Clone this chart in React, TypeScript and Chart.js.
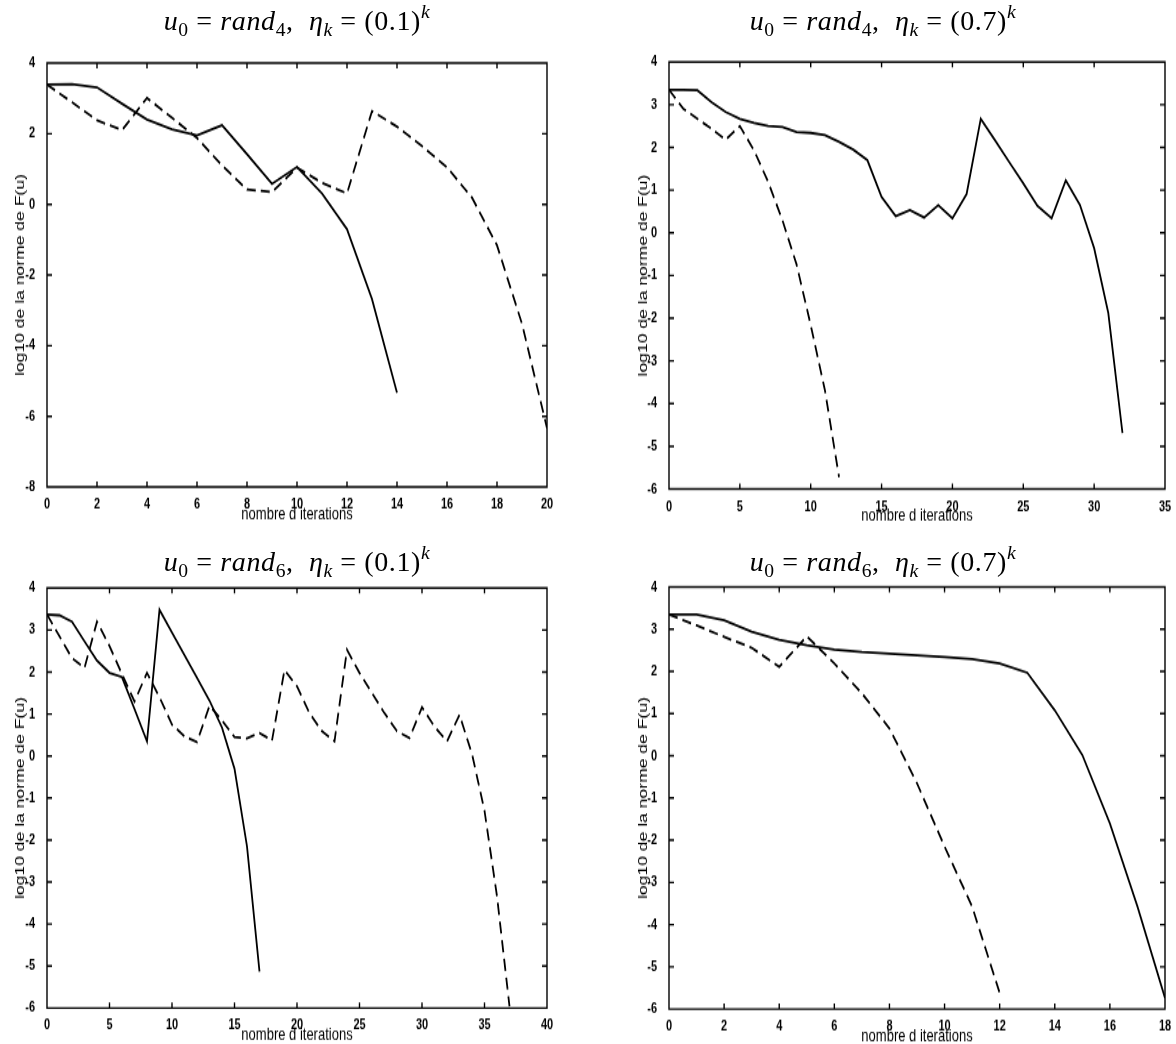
import React, { useEffect, useRef } from 'react';
import { Chart, registerables } from 'chart.js';

Chart.register(...registerables);

// ---------------- data (log10 of ||F(u)|| per iteration) ----------------
// Panel A : u0 = rand4, eta_k = (0.1)^k
const solidA = [3.39, 3.40, 3.31, 2.85, 2.40, 2.12, 1.95, 2.24, 1.42, 0.58, 1.06, 0.31, -0.70, -2.68, -5.33];
const dashedA = [3.39, 2.89, 2.38, 2.10, 3.01, 2.45, 1.88, 1.10, 0.42, 0.35, 1.04, 0.61, 0.31, 2.64, 2.20, 1.65, 1.05, 0.19, -1.16, -3.38, -6.33];
const xTicksA = [0, 2, 4, 6, 8, 10, 12, 14, 16, 18, 20];
const yTicksA = [-8, -6, -4, -2, 0, 2, 4];

// Panel B : u0 = rand4, eta_k = (0.7)^k
const solidB = [3.35, 3.35, 3.34, 3.06, 2.83, 2.67, 2.57, 2.50, 2.48, 2.36, 2.34, 2.29, 2.13, 1.95, 1.70, 0.84, 0.39, 0.53, 0.36, 0.65, 0.34, 0.91, 2.67, 2.17, 1.66, 1.16, 0.63, 0.34, 1.23, 0.65, -0.36, -1.88, -4.69];
const dashedB = [3.35, 2.91, 2.67, 2.44, 2.18, 2.50, 1.93, 1.19, 0.30, -0.74, -2.16, -3.68, -5.72];
const xTicksB = [0, 5, 10, 15, 20, 25, 30, 35];
const yTicksB = [-6, -5, -4, -3, -2, -1, 0, 1, 2, 3, 4];

// Panel C : u0 = rand6, eta_k = (0.1)^k
const solidC = [3.37, 3.35, 3.20, 2.73, 2.27, 1.98, 1.88, 1.12, 0.35, 3.48, 2.94, 2.40, 1.86, 1.32, 0.68, -0.30, -2.15, -5.13];
const dashedC = [3.37, 2.85, 2.33, 2.10, 3.20, 2.62, 1.95, 1.30, 1.98, 1.40, 0.75, 0.47, 0.33, 1.20, 0.85, 0.45, 0.42, 0.55, 0.37, 2.05, 1.66, 1.02, 0.59, 0.35, 2.53, 1.98, 1.50, 1.02, 0.59, 0.43, 1.16, 0.70, 0.35, 0.98, 0.05, -1.30, -3.34, -5.96];
const xTicksC = [0, 5, 10, 15, 20, 25, 30, 35, 40];
const yTicksC = [-6, -5, -4, -3, -2, -1, 0, 1, 2, 3, 4];

// Panel D : u0 = rand6, eta_k = (0.7)^k
const solidD = [3.35, 3.35, 3.21, 2.94, 2.75, 2.62, 2.52, 2.46, 2.42, 2.38, 2.34, 2.29, 2.19, 1.97, 1.08, 0.02, -1.60, -3.57, -5.74];
const dashedD = [3.35, 3.09, 2.82, 2.56, 2.11, 2.83, 2.19, 1.48, 0.65, -0.65, -2.15, -3.57, -5.62];
const xTicksD = [0, 2, 4, 6, 8, 10, 12, 14, 16, 18];
const yTicksD = [-6, -5, -4, -3, -2, -1, 0, 1, 2, 3, 4];

const X_LABEL = 'nombre d iterations';
const Y_LABEL = 'log10 de la norme de F(u)';

// ---------------- layout ----------------
const S = 1.35; // the scanned figure is stretched vertically
const FONT = '"Liberation Sans", Arial, Helvetica, sans-serif';
const TICK_SIZE = 11;
const LABEL_SIZE = 13;

type PanelCfg = {
  solid: number[];
  dashed: number[];
  xTicks: number[];
  yTicks: number[];
  randIdx: string;
  eta: string;
  canvasLeft: number;
  canvasWidth: number;
  canvasTop: number;
  canvasH: number;
  plotLeft: number;
  plotRight: number;
  plotTop: number;
  plotBottom: number;
  yTitleX: number;
  titleCX: number;
  titleCY: number;
};

const PANELS: PanelCfg[] = [
  {
    solid: solidA, dashed: dashedA, xTicks: xTicksA, yTicks: yTicksA, randIdx: '4', eta: '0.1',
    canvasLeft: 0, canvasWidth: 575, canvasTop: 36, canvasH: 368,
    plotLeft: 47, plotRight: 547, plotTop: 63, plotBottom: 487, yTitleX: 20, titleCX: 297, titleCY: 21,
  },
  {
    solid: solidB, dashed: dashedB, xTicks: xTicksB, yTicks: yTicksB, randIdx: '4', eta: '0.7',
    canvasLeft: 612, canvasWidth: 564, canvasTop: 36, canvasH: 368,
    plotLeft: 669, plotRight: 1165, plotTop: 62, plotBottom: 489, yTitleX: 643, titleCX: 883, titleCY: 21,
  },
  {
    solid: solidC, dashed: dashedC, xTicks: xTicksC, yTicks: yTicksC, randIdx: '6', eta: '0.1',
    canvasLeft: 0, canvasWidth: 575, canvasTop: 562, canvasH: 365,
    plotLeft: 47, plotRight: 547, plotTop: 588, plotBottom: 1008, yTitleX: 20, titleCX: 297, titleCY: 562,
  },
  {
    solid: solidD, dashed: dashedD, xTicks: xTicksD, yTicks: yTicksD, randIdx: '6', eta: '0.7',
    canvasLeft: 612, canvasWidth: 564, canvasTop: 562, canvasH: 365,
    plotLeft: 669, plotRight: 1165, plotTop: 587, plotBottom: 1009, yTitleX: 643, titleCX: 883, titleCY: 562,
  },
];

// inward ticks on all four sides + box, MATLAB style
const boxTicks = {
  id: 'boxTicks',
  afterDatasetsDraw(chart: any) {
    const { ctx, chartArea: a } = chart;
    const xs = chart.scales.x;
    const ys = chart.scales.y;
    ctx.save();
    ctx.strokeStyle = '#000';
    ctx.lineWidth = 1.4;
    ctx.beginPath();
    ctx.rect(a.left, a.top, a.right - a.left, a.bottom - a.top);
    for (const t of xs.ticks) {
      const p = xs.getPixelForValue(t.value);
      ctx.moveTo(p, a.bottom);
      ctx.lineTo(p, a.bottom - 4);
      ctx.moveTo(p, a.top);
      ctx.lineTo(p, a.top + 4);
    }
    for (const t of ys.ticks) {
      const p = ys.getPixelForValue(t.value);
      ctx.moveTo(a.left, p);
      ctx.lineTo(a.left + 5, p);
      ctx.moveTo(a.right, p);
      ctx.lineTo(a.right - 5, p);
    }
    ctx.stroke();
    ctx.restore();
  },
};

function Title({ randIdx, eta, cx, cy }: { randIdx: string; eta: string; cx: number; cy: number }) {
  const sub: React.CSSProperties = { fontSize: '0.7em', verticalAlign: '-0.3em', lineHeight: 0 };
  const sup: React.CSSProperties = { fontSize: '0.7em', verticalAlign: '0.62em', lineHeight: 0 };
  return (
    <div
      style={{
        position: 'absolute',
        left: cx - 250,
        width: 500,
        top: cy - 17,
        height: 34,
        textAlign: 'center',
        fontFamily: '"Liberation Serif", "Times New Roman", serif',
        fontSize: 28,
        letterSpacing: 0.6,
        lineHeight: '34px',
        whiteSpace: 'pre',
        color: '#000',
      }}
    >
      <i>u</i>
      <span style={sub}>0</span>
      {' = '}
      <i>rand</i>
      <span style={sub}>{randIdx}</span>
      {',  '}
      <i>η</i>
      <span style={sub}>
        <i>k</i>
      </span>
      {' = ('}
      {eta}
      {')'}
      <span style={sup}>
        <i>k</i>
      </span>
    </div>
  );
}

function Panel({ cfg }: { cfg: PanelCfg }) {
  const ref = useRef<HTMLCanvasElement>(null);

  useEffect(() => {
    if (!ref.current) return;
    const lh = LABEL_SIZE * 1.2;
    const yAxisW = cfg.plotLeft - cfg.canvasLeft;
    const padTop = (cfg.plotTop - cfg.canvasTop) / S;
    const padRight = cfg.canvasLeft + cfg.canvasWidth - cfg.plotRight;
    const xAxisH = cfg.canvasH - padTop - (cfg.plotBottom - cfg.plotTop) / S;
    const xTitlePadBottom = xAxisH - lh / 2 - 20.2;
    const yTitlePadTop = cfg.yTitleX - cfg.canvasLeft - lh / 2;

    const tickFont = { family: FONT, size: TICK_SIZE, weight: 'bold' as const };
    const labelFont = { family: FONT, size: LABEL_SIZE };
    const chart = new Chart(ref.current, {
      type: 'line',
      data: {
        datasets: [
          {
            data: cfg.solid.map((y, i) => ({ x: i, y })),
            borderColor: '#000',
            borderWidth: 1.8,
            pointRadius: 0,
            tension: 0,
            fill: false,
          },
          {
            data: cfg.dashed.map((y, i) => ({ x: i, y })),
            borderColor: '#000',
            borderWidth: 1.8,
            borderDash: [9, 5],
            pointRadius: 0,
            tension: 0,
            fill: false,
          },
        ],
      },
      options: {
        responsive: false,
        animation: false,
        events: [],
        layout: { padding: { top: padTop, right: padRight, bottom: 0, left: 0 } },
        plugins: { legend: { display: false }, tooltip: { enabled: false }, title: { display: false } },
        scales: {
          x: {
            type: 'linear',
            min: cfg.xTicks[0],
            max: cfg.xTicks[cfg.xTicks.length - 1],
            grid: { display: false },
            border: { display: false },
            afterBuildTicks: (s: any) => {
              s.ticks = cfg.xTicks.map((v) => ({ value: v }));
            },
            ticks: {
              color: '#000',
              font: tickFont,
              padding: -1.6,
              maxRotation: 0,
              autoSkip: false,
              callback: (v: any) => String(v),
            },
            title: {
              display: true,
              text: X_LABEL,
              color: '#000',
              font: labelFont,
              padding: { top: 0, bottom: xTitlePadBottom },
            },
            afterFit: (s: any) => {
              s.height = xAxisH;
              s.paddingLeft = 0;
              s.paddingRight = 0;
            },
          },
          y: {
            type: 'linear',
            min: cfg.yTicks[0],
            max: cfg.yTicks[cfg.yTicks.length - 1],
            grid: { display: false },
            border: { display: false },
            afterBuildTicks: (s: any) => {
              s.ticks = cfg.yTicks.map((v) => ({ value: v }));
            },
            ticks: {
              color: '#000',
              font: tickFont,
              padding: 4,
              autoSkip: false,
              callback: (v: any) => String(v),
            },
            title: {
              display: true,
              text: Y_LABEL,
              color: '#000',
              font: labelFont,
              padding: { top: yTitlePadTop, bottom: 0 },
            },
            afterFit: (s: any) => {
              s.width = yAxisW;
              s.paddingTop = 0;
              s.paddingBottom = 0;
            },
          },
        },
      },
      plugins: [boxTicks],
    } as any);
    return () => chart.destroy();
  }, [cfg]);

  return (
    <>
      <div
        style={{
          position: 'absolute',
          left: cfg.canvasLeft,
          top: cfg.canvasTop,
          width: cfg.canvasWidth,
          height: cfg.canvasH,
          transform: `scaleY(${S})`,
          transformOrigin: '0 0',
        }}
      >
        <canvas
          ref={ref}
          width={cfg.canvasWidth}
          height={cfg.canvasH}
          style={{ display: 'block', width: cfg.canvasWidth, height: cfg.canvasH }}
        />
      </div>
      <Title randIdx={cfg.randIdx} eta={cfg.eta} cx={cfg.titleCX} cy={cfg.titleCY} />
    </>
  );
}

export default function App() {
  return (
    <div
      style={{
        position: 'absolute',
        left: 0,
        top: 0,
        width: 1176,
        height: 1044,
        overflow: 'hidden',
        background: '#fff',
      }}
    >
      {PANELS.map((p, i) => (
        <Panel key={i} cfg={p} />
      ))}
    </div>
  );
}
